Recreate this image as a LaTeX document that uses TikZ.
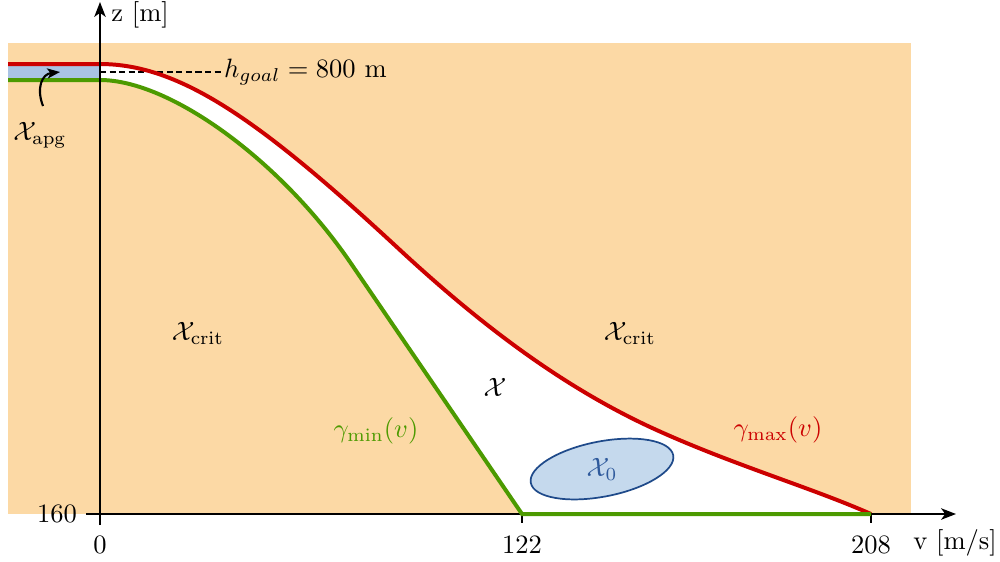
\documentclass[tikz,border=0pt]{standalone}
\usetikzlibrary{arrows.meta,shapes.geometric}
\definecolor{bgorange}{HTML}{FCD9A5}
\definecolor{stripblue}{HTML}{A9C3E3}
\definecolor{ellfill}{HTML}{C5D9ED}
\definecolor{elldraw}{HTML}{1F4A8A}
\definecolor{x0text}{HTML}{2F5A9C}
\definecolor{cred}{HTML}{CC0000}
\definecolor{cgreen}{HTML}{4C9A00}
\begin{document}
\begin{tikzpicture}[x=0.377pt,y=-0.377pt,
  axis/.style={line width=0.75pt,-{Stealth[length=5.6pt,width=4.3pt,inset=1.5pt]}},
  tickmark/.style={line width=0.75pt},
  redcurve/.style={cred,line width=1.5pt},
  greencurve/.style={cgreen,line width=1.5pt,line join=miter},
  lbl/.style={inner sep=1pt}]
\useasboundingbox (0,0) rectangle (1000,561);
% background
\fill[bgorange] (8,43) rectangle (911,514);
% white feasible region
\fill[white] (100,64) .. controls (180,64) and (260,120) .. (400,250)
  .. controls (480,324) and (560,385) .. (650,427)
  .. controls (730,464) and (810,487) .. (871,514)
  -- (522,514) -- (350,262) .. controls (280,160) and (170,80) .. (100,80) -- cycle;
% blue strip
\fill[stripblue] (8,64) rectangle (100,80);
% dashed goal line
\coordinate (dstart) at (100,72);
\node[lbl,anchor=west] (hgoal) at (221,72) {$h_{goal} = 800\ \mathrm{m}$};
\draw[dash pattern=on 2.3pt off 1.3pt,line width=0.45pt] (dstart) -- (hgoal.west);
% x axis
\coordinate (xs) at (86,514);
\coordinate (xe) at (956,514);
\draw[axis] (xs) -- (xe);
% ticks
\foreach \xx in {522,871}{\draw[tickmark] (\xx,514) -- (\xx,523);}
% curves
\draw[redcurve] (8,64) -- (100,64) .. controls (180,64) and (260,120) .. (400,250)
  .. controls (480,324) and (560,385) .. (650,427)
  .. controls (730,464) and (810,487) .. (871,514);
\draw[greencurve] (8,80) -- (100,80) .. controls (170,80) and (280,160) .. (350,262)
  -- (522,514) -- (871,514);
% y axis
\coordinate (ys) at (100,525);
\coordinate (ye) at (100,2);
\draw[axis] (ys) -- (ye);
% ellipse X0
\node[ellipse,draw=elldraw,fill=ellfill,line width=0.65pt,minimum width=54.7pt,minimum height=20.8pt,inner sep=0pt,rotate=11] (x0e) at (602,469) {};
\node[lbl,text=x0text] (x0) at (x0e.center) {$\mathcal{X}_0$};
% apg arrow
\node[lbl] (apg) at (40,135) {$\mathcal{X}_{\mathrm{apg}}$};
\coordinate (apgtip) at (60,72);
\draw[line width=0.8pt,-{Stealth[length=4.8pt,width=3.8pt,inset=1.2pt]}] (43,106) .. controls (36,88) and (42,74) .. (apgtip);
% labels
\node[lbl] (zlab) at (140,15) {z [m]};
\node[lbl] (vlab) at (955,543) {v [m/s]};
\node[lbl] (l160) at (57,514) {160};
\node[lbl] (l0) at (100,545) {0};
\node[lbl] (l122) at (522,545) {122};
\node[lbl] (l208) at (871,545) {208};
\node[lbl] (crit1) at (198,333) {$\mathcal{X}_{\mathrm{crit}}$};
\node[lbl] (crit2) at (630,333) {$\mathcal{X}_{\mathrm{crit}}$};
\node[lbl] (xfeas) at (495,387) {$\mathcal{X}$};
\node[lbl,text=cgreen] (gmin) at (376,431) {$\gamma_{\min}(v)$};
\node[lbl,text=cred] (gmax) at (778,430) {$\gamma_{\max}(v)$};
\end{tikzpicture}
\end{document}
